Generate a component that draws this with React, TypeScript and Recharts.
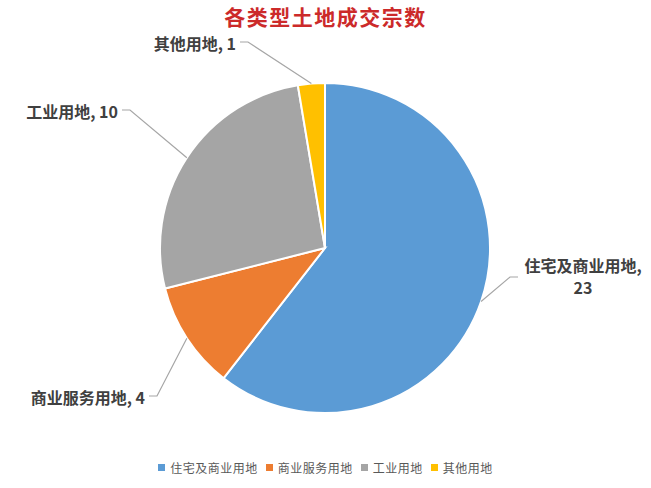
import { PieChart, Pie, Cell, Legend } from 'recharts'

const CATEGORIES = ['住宅及商业用地', '商业服务用地', '工业用地', '其他用地']
const COUNTS = [23, 4, 10, 1]
const COLORS = ['#5B9BD5', '#ED7D31', '#A5A5A5', '#FFC000']

const data = CATEGORIES.map((name, i) => ({ name, value: COUNTS[i] }))

const FONT = '"Noto Sans CJK SC", "Noto Sans", sans-serif'
const LABEL_COLOR = '#404040'

// elbow point of each leader line, relative to pie centre
const ELBOW = [
  [185, 29],
  [-168, 148],
  [-195, -138],
  [-77, -206],
]

function renderLabel(props: any) {
  const { cx, cy, midAngle, outerRadius, index, name, value } = props
  const rad = (Math.PI / 180) * midAngle
  const sx = cx + Math.cos(-rad) * outerRadius
  const sy = cy + Math.sin(-rad) * outerRadius
  const [ex0, ey0] = ELBOW[index]
  const ex = cx + ex0
  const ey = cy + ey0
  const right = ex0 > 0
  const tx = ex + (right ? 8 : -8)
  const points = `${sx},${sy} ${ex},${ey} ${tx},${ey}`
  return (
    <g>
      <polyline points={points} fill="none" stroke="#A6A6A6" strokeWidth={1.2} />
      {right ? (
        <text x={tx + 65} y={ey} fill={LABEL_COLOR} fontSize={16} fontWeight="bold" fontFamily={FONT} textAnchor="middle">
          <tspan x={tx + 65} dy={-5}>{name},</tspan>
          <tspan x={tx + 65} dy={22}>{value}</tspan>
        </text>
      ) : (
        <text x={tx - 4} y={ey + 7.5} fill={LABEL_COLOR} fontSize={16} fontWeight="bold" fontFamily={FONT} textAnchor="end">
          {name}, {value}
        </text>
      )}
    </g>
  )
}

function LegendContent() {
  return (
    <div style={{ display: 'flex', justifyContent: 'center', gap: 8, fontFamily: FONT, fontSize: 12, color: '#595959', letterSpacing: 0.5 }}>
      {CATEGORIES.map((c, i) => (
        <span key={c} style={{ display: 'flex', alignItems: 'center' }}>
          <span style={{ display: 'inline-block', width: 7, height: 7, background: COLORS[i], marginRight: 5 }} />
          {c}
        </span>
      ))}
    </div>
  )
}

export default function App() {
  return (
    <div style={{ position: 'absolute', left: 0, top: 0, width: 651, height: 488, background: '#fff' }}>
      <div
        style={{
          position: 'absolute',
          top: 4.5,
          left: 0,
          width: 651,
          textAlign: 'center',
          color: '#CC2A2A',
          fontFamily: FONT,
          fontWeight: 'bold',
          fontSize: 21,
          letterSpacing: 1.5,
          lineHeight: '22px',
        }}
      >
        各类型土地成交宗数
      </div>
      <PieChart width={651} height={488} margin={{ top: 0, right: 0, bottom: 0, left: 0 }}>
        <Pie
          data={data}
          dataKey="value"
          nameKey="name"
          cx={325}
          cy={248}
          outerRadius={165}
          startAngle={90}
          endAngle={-270}
          stroke="#fff"
          strokeWidth={2}
          label={renderLabel}
          labelLine={false}
          isAnimationActive={false}
        >
          {data.map((d, i) => (
            <Cell key={d.name} fill={COLORS[i]} />
          ))}
        </Pie>
        <Legend verticalAlign="bottom" align="center" content={LegendContent} wrapperStyle={{ bottom: 12 }} />
      </PieChart>
    </div>
  )
}
